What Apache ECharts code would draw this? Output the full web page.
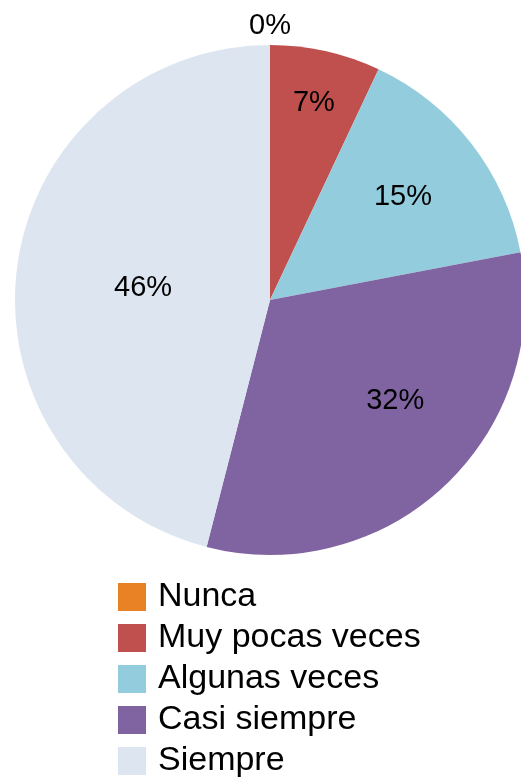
<!DOCTYPE html>
<html>
<head>
<meta charset="utf-8">
<script src="https://cdn.jsdelivr.net/npm/echarts@6/dist/echarts.min.js"></script>
<style>
  html, body { margin: 0; padding: 0; background: #fff; }
  #main { width: 521px; height: 780px; }
</style>
</head>
<body>
<div id="main"></div>
<script>
// categorías y valores (%)
var categories = ['Nunca', 'Muy pocas veces', 'Algunas veces', 'Casi siempre', 'Siempre'];
var values = [0, 7, 15, 32, 46];
var colors = ['#E98125', '#C0504D', '#93CDDD', '#8064A2', '#DCE5F0'];

// posición de etiquetas: fracción del radio y ajuste de ángulo (grados)
var labelRadius = [1.075, 0.79, 0.66, 0.63, 0.5];
var labelTurn = [0, 0, 0, -8, -2];

var cx = 270, cy = 300, R = 255;
var total = values.reduce(function (a, b) { return a + b; }, 0);

var myChart = echarts.init(document.getElementById('main'));

var option = {
  animation: false,
  color: colors,
  legend: {
    orient: 'vertical',
    left: 118,
    top: 580,
    padding: 0,
    icon: 'rect',
    itemWidth: 28,
    itemHeight: 28,
    itemGap: 7,
    selectedMode: false,
    textStyle: {
      fontFamily: 'Liberation Sans, Arial, sans-serif',
      fontSize: 34,
      color: '#000',
      padding: [0, 0, 0, 7]
    },
    data: categories
  },
  series: [{
    type: 'pie',
    center: [cx, cy],
    radius: [0, R],
    startAngle: 90,
    clockwise: true,
    avoidLabelOverlap: false,
    silent: true,
    itemStyle: { borderWidth: 0 },
    label: {
      show: true,
      position: 'inside',
      formatter: '{d}%',
      fontFamily: 'Liberation Sans, Arial, sans-serif',
      fontSize: 29,
      color: '#000'
    },
    labelLine: { show: false },
    labelLayout: function (params) {
      var i = params.dataIndex;
      var before = 0;
      for (var k = 0; k < i; k++) before += values[k];
      var mid = (before + values[i] / 2) / total * 360 + labelTurn[i];
      var a = mid * Math.PI / 180;
      var r = R * labelRadius[i];
      return {
        x: cx + r * Math.sin(a),
        y: cy - r * Math.cos(a),
        align: 'center',
        verticalAlign: 'middle'
      };
    },
    data: categories.map(function (name, i) {
      return { name: name, value: values[i] };
    })
  }]
};

myChart.setOption(option);
</script>
</body>
</html>
